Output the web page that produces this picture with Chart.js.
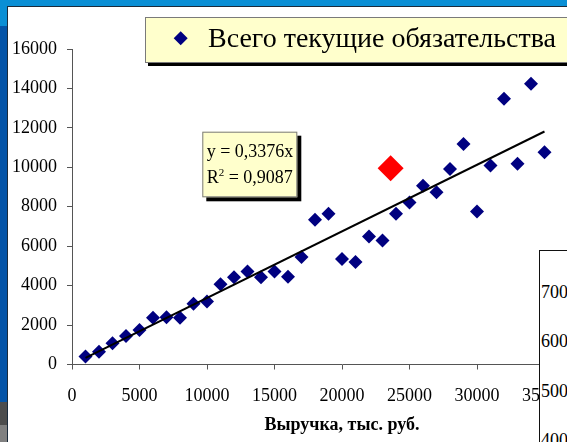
<!DOCTYPE html>
<html>
<head>
<meta charset="utf-8">
<script src="https://cdn.jsdelivr.net/npm/chart.js@4/dist/chart.umd.min.js"></script>
<style>
  html, body { margin: 0; padding: 0; }
  body { width: 567px; height: 442px; overflow: hidden; position: relative; background: #fff; font-family: 'Liberation Serif', 'Times New Roman', serif; }
  .bg { position: absolute; }
  #main { position: absolute; left: 8px; top: 7px; }
  #side { position: absolute; left: 539px; top: 250px; width: 120px; height: 260px; background: #fff; border: 1px solid #111; }
  #side span { position: absolute; left: 1px; font-size: 18px; line-height: 18px; color: #000; white-space: nowrap; }
</style>
</head>
<body>
<div class="bg" style="left:0;top:0;width:567px;height:6px;background:#0a8fd5"></div>
<div class="bg" style="left:0;top:6px;width:7px;height:20px;background:#0a8fd5"></div>
<div class="bg" style="left:0;top:26px;width:7px;height:376px;background:#0454a8"></div>
<div class="bg" style="left:0;top:402px;width:7px;height:23px;background:#4d4d4d"></div>
<div class="bg" style="left:0;top:425px;width:7px;height:17px;background:#808080"></div>
<div class="bg" style="left:7px;top:6px;width:560px;height:1px;background:#1b2b3b"></div>
<div class="bg" style="left:7px;top:6px;width:1px;height:436px;background:#1b2b3b"></div>
<canvas id="main" width="700" height="435"></canvas>
<div id="side"></div>
<script>
// Revenue (thousand rubles) and total current liabilities
const revenue = [1000, 2000, 3000, 4000, 5000, 6000, 7000, 8000, 9000, 10000,
                 11000, 12000, 13000, 14000, 15000, 16000, 17000, 18000, 19000, 20000,
                 21000, 22000, 23000, 24000, 25000, 26000, 27000, 28000, 29000, 30000,
                 31000, 32000, 33000, 34000, 35000];
const liabilities = [400, 650, 1075, 1450, 1750, 2370, 2390, 2370, 3080, 3200,
                     4070, 4420, 4710, 4420, 4710, 4450, 5450, 7340, 7640, 5350,
                     5200, 6490, 6290, 7640, 8210, 9060, 8740, 9910, 11180, 7760,
                     10090, 13480, 10180, 14240, 10770];
// Highlighted company
const highlightX = [23600];
const highlightY = [9950];
// Linear trend through the origin
const trendSlope = 0.3376;
const trendR2 = 0.9087;
const trendRange = [1000, 35000];
// Tick labels of the neighbouring chart
const sideTicks = ['7000', '6000', '5000', '4000'];

const seriesName = 'Всего текущие обязательства';
const axisTitle = 'Выручка, тыс. руб.';
const serif = "'Liberation Serif', 'Times New Roman', serif";

const side = document.getElementById('side');
sideTicks.forEach((t, i) => {
  const s = document.createElement('span');
  s.textContent = t;
  s.style.top = (32 + i * 49.3) + 'px';
  side.appendChild(s);
});

const fmt = v => v.toFixed(4).replace('.', ',');
const plainTick = v => String(v);

const overlayBoxes = {
  id: 'overlayBoxes',
  afterDraw(chart) {
    const ctx = chart.ctx;
    ctx.save();
    // legend box
    const lx = 137, ly = 10, lw = 430, lh = 46;
    ctx.fillStyle = '#000';
    ctx.fillRect(lx + 3, ly + 3, lw, lh);
    ctx.fillStyle = '#ffffcc';
    ctx.fillRect(lx, ly, lw, lh);
    ctx.strokeStyle = '#7a7a7a';
    ctx.lineWidth = 1;
    ctx.strokeRect(lx + 0.5, ly + 0.5, lw - 1, lh - 1);
    ctx.fillStyle = '#000080';
    Chart.helpers.drawPoint(ctx, { pointStyle: 'rectRot', radius: 7, borderWidth: 0 }, 172.7, 31.3);
    ctx.fillStyle = '#000';
    ctx.font = '28px ' + serif;
    ctx.textBaseline = 'alphabetic';
    ctx.textAlign = 'left';
    ctx.fillText(chart.data.datasets[1].label, 200, 39.7);

    // trend equation box
    const ex = 194.3, ey = 124.7, ew = 95, eh = 65.6;
    ctx.fillStyle = '#000';
    ctx.fillRect(ex + 4, ey + 4, ew, eh);
    ctx.fillStyle = '#ffffcc';
    ctx.fillRect(ex, ey, ew, eh);
    ctx.strokeStyle = '#7a7a7a';
    ctx.strokeRect(ex + 0.5, ey + 0.5, ew - 1, eh - 1);
    ctx.fillStyle = '#000';
    ctx.font = '18px ' + serif;
    ctx.fillText('y = ' + fmt(trendSlope) + 'x', 198.7, 149.7);
    let tx = 198.7;
    ctx.fillText('R', tx, 176.3);
    tx += ctx.measureText('R').width;
    ctx.font = '11px ' + serif;
    ctx.fillText('2', tx, 168.5);
    tx += ctx.measureText('2').width;
    ctx.font = '18px ' + serif;
    ctx.fillText(' = ' + fmt(trendR2), tx, 176.3);
    ctx.restore();
  }
};

new Chart(document.getElementById('main'), {
  type: 'scatter',
  data: {
    datasets: [
      {
        label: 'Линейный тренд',
        type: 'line',
        data: trendRange.map(x => ({ x: x, y: trendSlope * x })),
        borderColor: '#000',
        borderWidth: 2,
        pointRadius: 0,
        showLine: true,
        fill: false,
        order: 0
      },
      {
        label: seriesName,
        data: revenue.map((x, i) => ({ x: x, y: liabilities[i] })),
        pointStyle: 'rectRot',
        pointRadius: 7,
        backgroundColor: '#000080',
        borderColor: '#000080',
        borderWidth: 0,
        order: 1,
        clip: false
      },
      {
        label: 'Выделенная компания',
        data: highlightX.map((x, i) => ({ x: x, y: highlightY[i] })),
        pointStyle: 'rectRot',
        pointRadius: 13,
        backgroundColor: '#ff0000',
        borderColor: '#ff0000',
        borderWidth: 0,
        order: 2
      }
    ]
  },
  options: {
    responsive: false,
    devicePixelRatio: 1,
    animation: false,
    events: [],
    layout: { padding: { left: 0, right: 96, top: 42, bottom: 0 } },
    plugins: { legend: { display: false }, tooltip: { enabled: false } },
    scales: {
      x: {
        type: 'linear',
        min: 0, max: 40000,
        afterFit(scale) { scale.height = 77.5; },
        ticks: { stepSize: 5000, padding: 16, color: '#000', font: { family: serif, size: 18 }, maxRotation: 0, callback: plainTick },
        grid: { drawOnChartArea: false, drawTicks: true, tickLength: 5, color: '#555' },
        border: { display: true, color: '#555', width: 1 },
        title: { display: true, text: axisTitle, color: '#000', font: { family: serif, size: 18, weight: 'bold' }, padding: { top: 0, bottom: 6 } }
      },
      y: {
        type: 'linear',
        min: 0, max: 16000,
        afterFit(scale) { scale.width = 64; },
        ticks: { stepSize: 2000, padding: 10, color: '#000', font: { family: serif, size: 18 }, callback: plainTick },
        grid: { drawOnChartArea: false, drawTicks: true, tickLength: 5, color: '#555' },
        border: { display: true, color: '#555', width: 1 }
      }
    }
  },
  plugins: [overlayBoxes]
});
</script>
</body>
</html>
